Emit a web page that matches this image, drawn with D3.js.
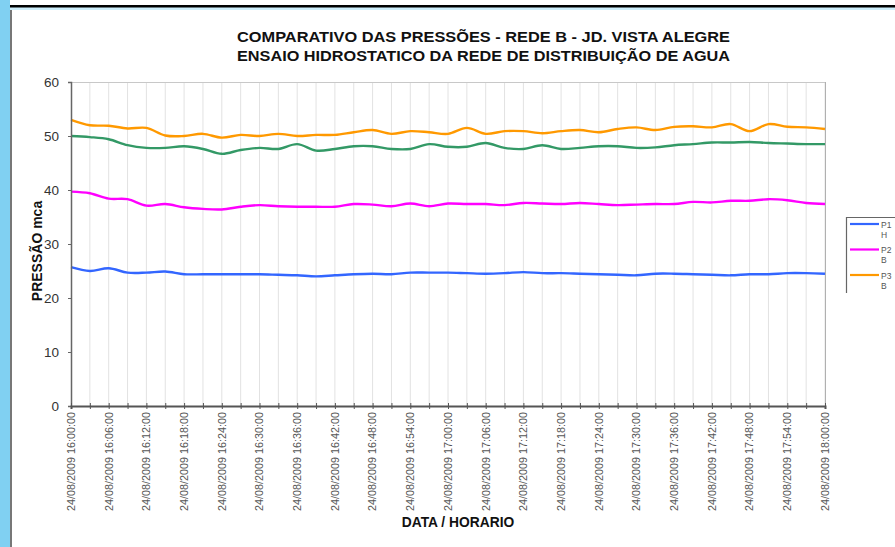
<!DOCTYPE html>
<html>
<head>
<meta charset="utf-8">
<script src="https://cdn.jsdelivr.net/npm/d3@7/dist/d3.min.js"></script>
<style>
  html, body { margin: 0; padding: 0; background: #fff; }
  svg { display: block; }
</style>
</head>
<body>
<svg id="chart" width="895" height="547"></svg>
<script>
// ---------- DATA ----------
const titleLines = ["COMPARATIVO  DAS PRESSÕES - REDE B - JD. VISTA ALEGRE",
                    "ENSAIO HIDROSTATICO DA REDE DE DISTRIBUIÇÃO DE AGUA"];
const yTitle = "PRESSÃO mca";
const xTitle = "DATA / HORARIO";
const yTicks = [0, 10, 20, 30, 40, 50, 60];

// 41 readings, every 3 minutes from 16:00 to 18:00
const categories = [
  "24/08/2009 16:00:00","24/08/2009 16:03:00","24/08/2009 16:06:00","24/08/2009 16:09:00",
  "24/08/2009 16:12:00","24/08/2009 16:15:00","24/08/2009 16:18:00","24/08/2009 16:21:00",
  "24/08/2009 16:24:00","24/08/2009 16:27:00","24/08/2009 16:30:00","24/08/2009 16:33:00",
  "24/08/2009 16:36:00","24/08/2009 16:39:00","24/08/2009 16:42:00","24/08/2009 16:45:00",
  "24/08/2009 16:48:00","24/08/2009 16:51:00","24/08/2009 16:54:00","24/08/2009 16:57:00",
  "24/08/2009 17:00:00","24/08/2009 17:03:00","24/08/2009 17:06:00","24/08/2009 17:09:00",
  "24/08/2009 17:12:00","24/08/2009 17:15:00","24/08/2009 17:18:00","24/08/2009 17:21:00",
  "24/08/2009 17:24:00","24/08/2009 17:27:00","24/08/2009 17:30:00","24/08/2009 17:33:00",
  "24/08/2009 17:36:00","24/08/2009 17:39:00","24/08/2009 17:42:00","24/08/2009 17:45:00",
  "24/08/2009 17:48:00","24/08/2009 17:51:00","24/08/2009 17:54:00","24/08/2009 17:57:00",
  "24/08/2009 18:00:00"
];
// labels shown on the axis (every second category)
const tickLabels = categories.filter((d, i) => i % 2 === 0);

const p1 = [25.7,25.0,25.5,24.7,24.7,24.9,24.4,24.4,24.4,24.4,24.4,24.3,24.2,24.0,24.2,24.4,24.5,24.4,24.7,24.7,
            24.7,24.6,24.5,24.6,24.8,24.6,24.6,24.5,24.4,24.3,24.2,24.5,24.5,24.4,24.3,24.2,24.4,24.4,24.6,24.6,24.5];
const p2 = [39.7,39.4,38.4,38.3,37.1,37.4,36.8,36.5,36.4,36.9,37.2,37.0,36.9,36.9,36.9,37.4,37.3,37.0,37.5,37.0,
            37.5,37.4,37.4,37.2,37.6,37.5,37.4,37.6,37.4,37.2,37.3,37.4,37.4,37.8,37.7,38.0,38.0,38.3,38.1,37.6,37.4];
const p3 = [53.0,52.0,51.9,51.4,51.5,50.1,50.0,50.4,49.7,50.2,50.0,50.4,50.0,50.2,50.2,50.7,51.1,50.4,50.9,50.7,
            50.4,51.5,50.4,50.9,50.9,50.5,50.9,51.1,50.7,51.3,51.6,51.1,51.7,51.8,51.6,52.2,50.9,52.2,51.7,51.6,51.3];
const p4 = [50.0,49.8,49.4,48.3,47.8,47.8,48.1,47.6,46.7,47.4,47.8,47.6,48.5,47.3,47.6,48.1,48.1,47.6,47.6,48.5,
            48.0,48.0,48.7,47.8,47.6,48.3,47.6,47.8,48.1,48.1,47.8,47.9,48.3,48.5,48.8,48.8,48.9,48.7,48.6,48.5,48.5];

const seriesNames = ["P1", "P2", "P3", "P4"];
const seriesSub = ["H", "B", "B", "B"];
const seriesValues = [p1, p2, p3, p4];
const seriesColors = ["#3366ff", "#ff00ff", "#ff9900", "#339966"];
const legendCount = 3; // only three entries visible in the legend box

// ---------- LAYOUT ----------
const svg = d3.select("#chart");
const W = 895, H = 547;
const plot = { left: 71, right: 825, top: 82, bottom: 406 };
const FONT = "Liberation Sans, Arial, sans-serif";

// frame decoration
svg.append("rect").attr("x", 0).attr("y", 0).attr("width", 10).attr("height", H).attr("fill", "#80d0f2");
svg.append("rect").attr("x", 10).attr("y", 7).attr("width", W - 10).attr("height", 3).attr("fill", "#cdeefb");
svg.append("rect").attr("x", 10).attr("y", 5).attr("width", W - 10).attr("height", 2.5).attr("fill", "#000");
svg.append("rect").attr("x", 10).attr("y", 10).attr("width", 2).attr("height", H - 10).attr("fill", "#777");

const x = d3.scalePoint().domain(categories).range([plot.left, plot.right]);
const y = d3.scaleLinear().domain([0, 60]).range([plot.bottom, plot.top]);

// vertical gridlines
svg.append("g").selectAll("line").data(categories.slice(1)).join("line")
  .attr("x1", d => x(d)).attr("x2", d => x(d))
  .attr("y1", plot.top).attr("y2", plot.bottom)
  .attr("stroke", "#e2e2e2").attr("stroke-width", 1);

// plot border top / right
svg.append("line").attr("x1", plot.left).attr("x2", plot.right).attr("y1", plot.top + 0.5).attr("y2", plot.top + 0.5)
  .attr("stroke", "#c8c8c8");
svg.append("line").attr("x1", plot.right + 0.5).attr("x2", plot.right + 0.5).attr("y1", plot.top).attr("y2", plot.bottom)
  .attr("stroke", "#b0b0b0");

// lines
const line = d3.line()
  .x((d, i) => x(categories[i]))
  .y(d => y(d))
  .curve(d3.curveCardinal.tension(0));

[3, 2, 1, 0].forEach(k => {
  svg.append("path").datum(seriesValues[k])
    .attr("d", line)
    .attr("fill", "none")
    .attr("stroke", seriesColors[k])
    .attr("stroke-width", 2.4)
    .attr("stroke-linejoin", "round");
});

// y axis
const yAxis = svg.append("g").attr("transform", `translate(${plot.left},0)`)
  .call(d3.axisLeft(y).tickValues(yTicks).tickSize(3).tickPadding(9).tickFormat(d3.format("d")));
yAxis.select(".domain").attr("stroke", "#666").attr("stroke-width", 1.5);
yAxis.selectAll(".tick line").attr("stroke", "#666");
yAxis.selectAll("text").attr("font-family", FONT)
  .attr("font-size", 13.5).attr("fill", "#333");

// x axis
const xAxis = svg.append("g").attr("transform", `translate(0,${plot.bottom})`)
  .call(d3.axisBottom(x).tickValues(categories).tickSize(3).tickFormat(""));
xAxis.select(".domain").attr("stroke", "#555").attr("stroke-width", 2);
xAxis.selectAll(".tick line").attr("stroke", "#555").attr("y1", -3).attr("y2", 3);

// x tick labels (rotated)
svg.append("g").selectAll("text").data(tickLabels).join("text")
  .attr("transform", d => `translate(${x(d) + 3.8},412) rotate(-90)`)
  .attr("text-anchor", "end")
  .attr("font-family", FONT)
  .attr("font-size", 10.8)
  .attr("fill", "#555")
  .text(d => d);

// titles
svg.append("g").selectAll("text").data(titleLines).join("text")
  .attr("x", 483.5).attr("y", (d, i) => 42 + i * 19)
  .attr("text-anchor", "middle")
  .attr("font-family", FONT)
  .attr("font-weight", "bold").attr("font-size", 15.3).attr("fill", "#111")
  .attr("textLength", 493).attr("lengthAdjust", "spacingAndGlyphs")
  .text(d => d);

svg.append("text")
  .attr("transform", "translate(42,251) rotate(-90)")
  .attr("text-anchor", "middle")
  .attr("font-family", FONT)
  .attr("font-weight", "bold").attr("font-size", 14).attr("fill", "#111")
  .text(yTitle);

svg.append("text")
  .attr("x", 458).attr("y", 527)
  .attr("text-anchor", "middle")
  .attr("font-family", FONT)
  .attr("font-weight", "bold").attr("font-size", 13.8).attr("fill", "#111")
  .text(xTitle);

// legend
const lg = svg.append("g");
lg.append("path").attr("d", "M846.5,293 V217.5 H895").attr("fill", "none").attr("stroke", "#666").attr("stroke-width", 1.2);
const entries = lg.selectAll("g.e").data(d3.range(legendCount)).join("g")
  .attr("transform", k => `translate(0,${224 + k * 25.5})`);
entries.append("line").attr("x1", 850).attr("x2", 879).attr("y1", 0).attr("y2", 0)
  .attr("stroke", k => seriesColors[k]).attr("stroke-width", 2.2);
entries.append("text").attr("x", 881).attr("y", 3.5)
  .attr("font-family", FONT).attr("font-size", 8.5).attr("fill", "#555")
  .text(k => seriesNames[k]);
entries.append("text").attr("x", 881).attr("y", 13.5)
  .attr("font-family", FONT).attr("font-size", 8.5).attr("fill", "#555")
  .text(k => seriesSub[k]);
</script>
</body>
</html>
